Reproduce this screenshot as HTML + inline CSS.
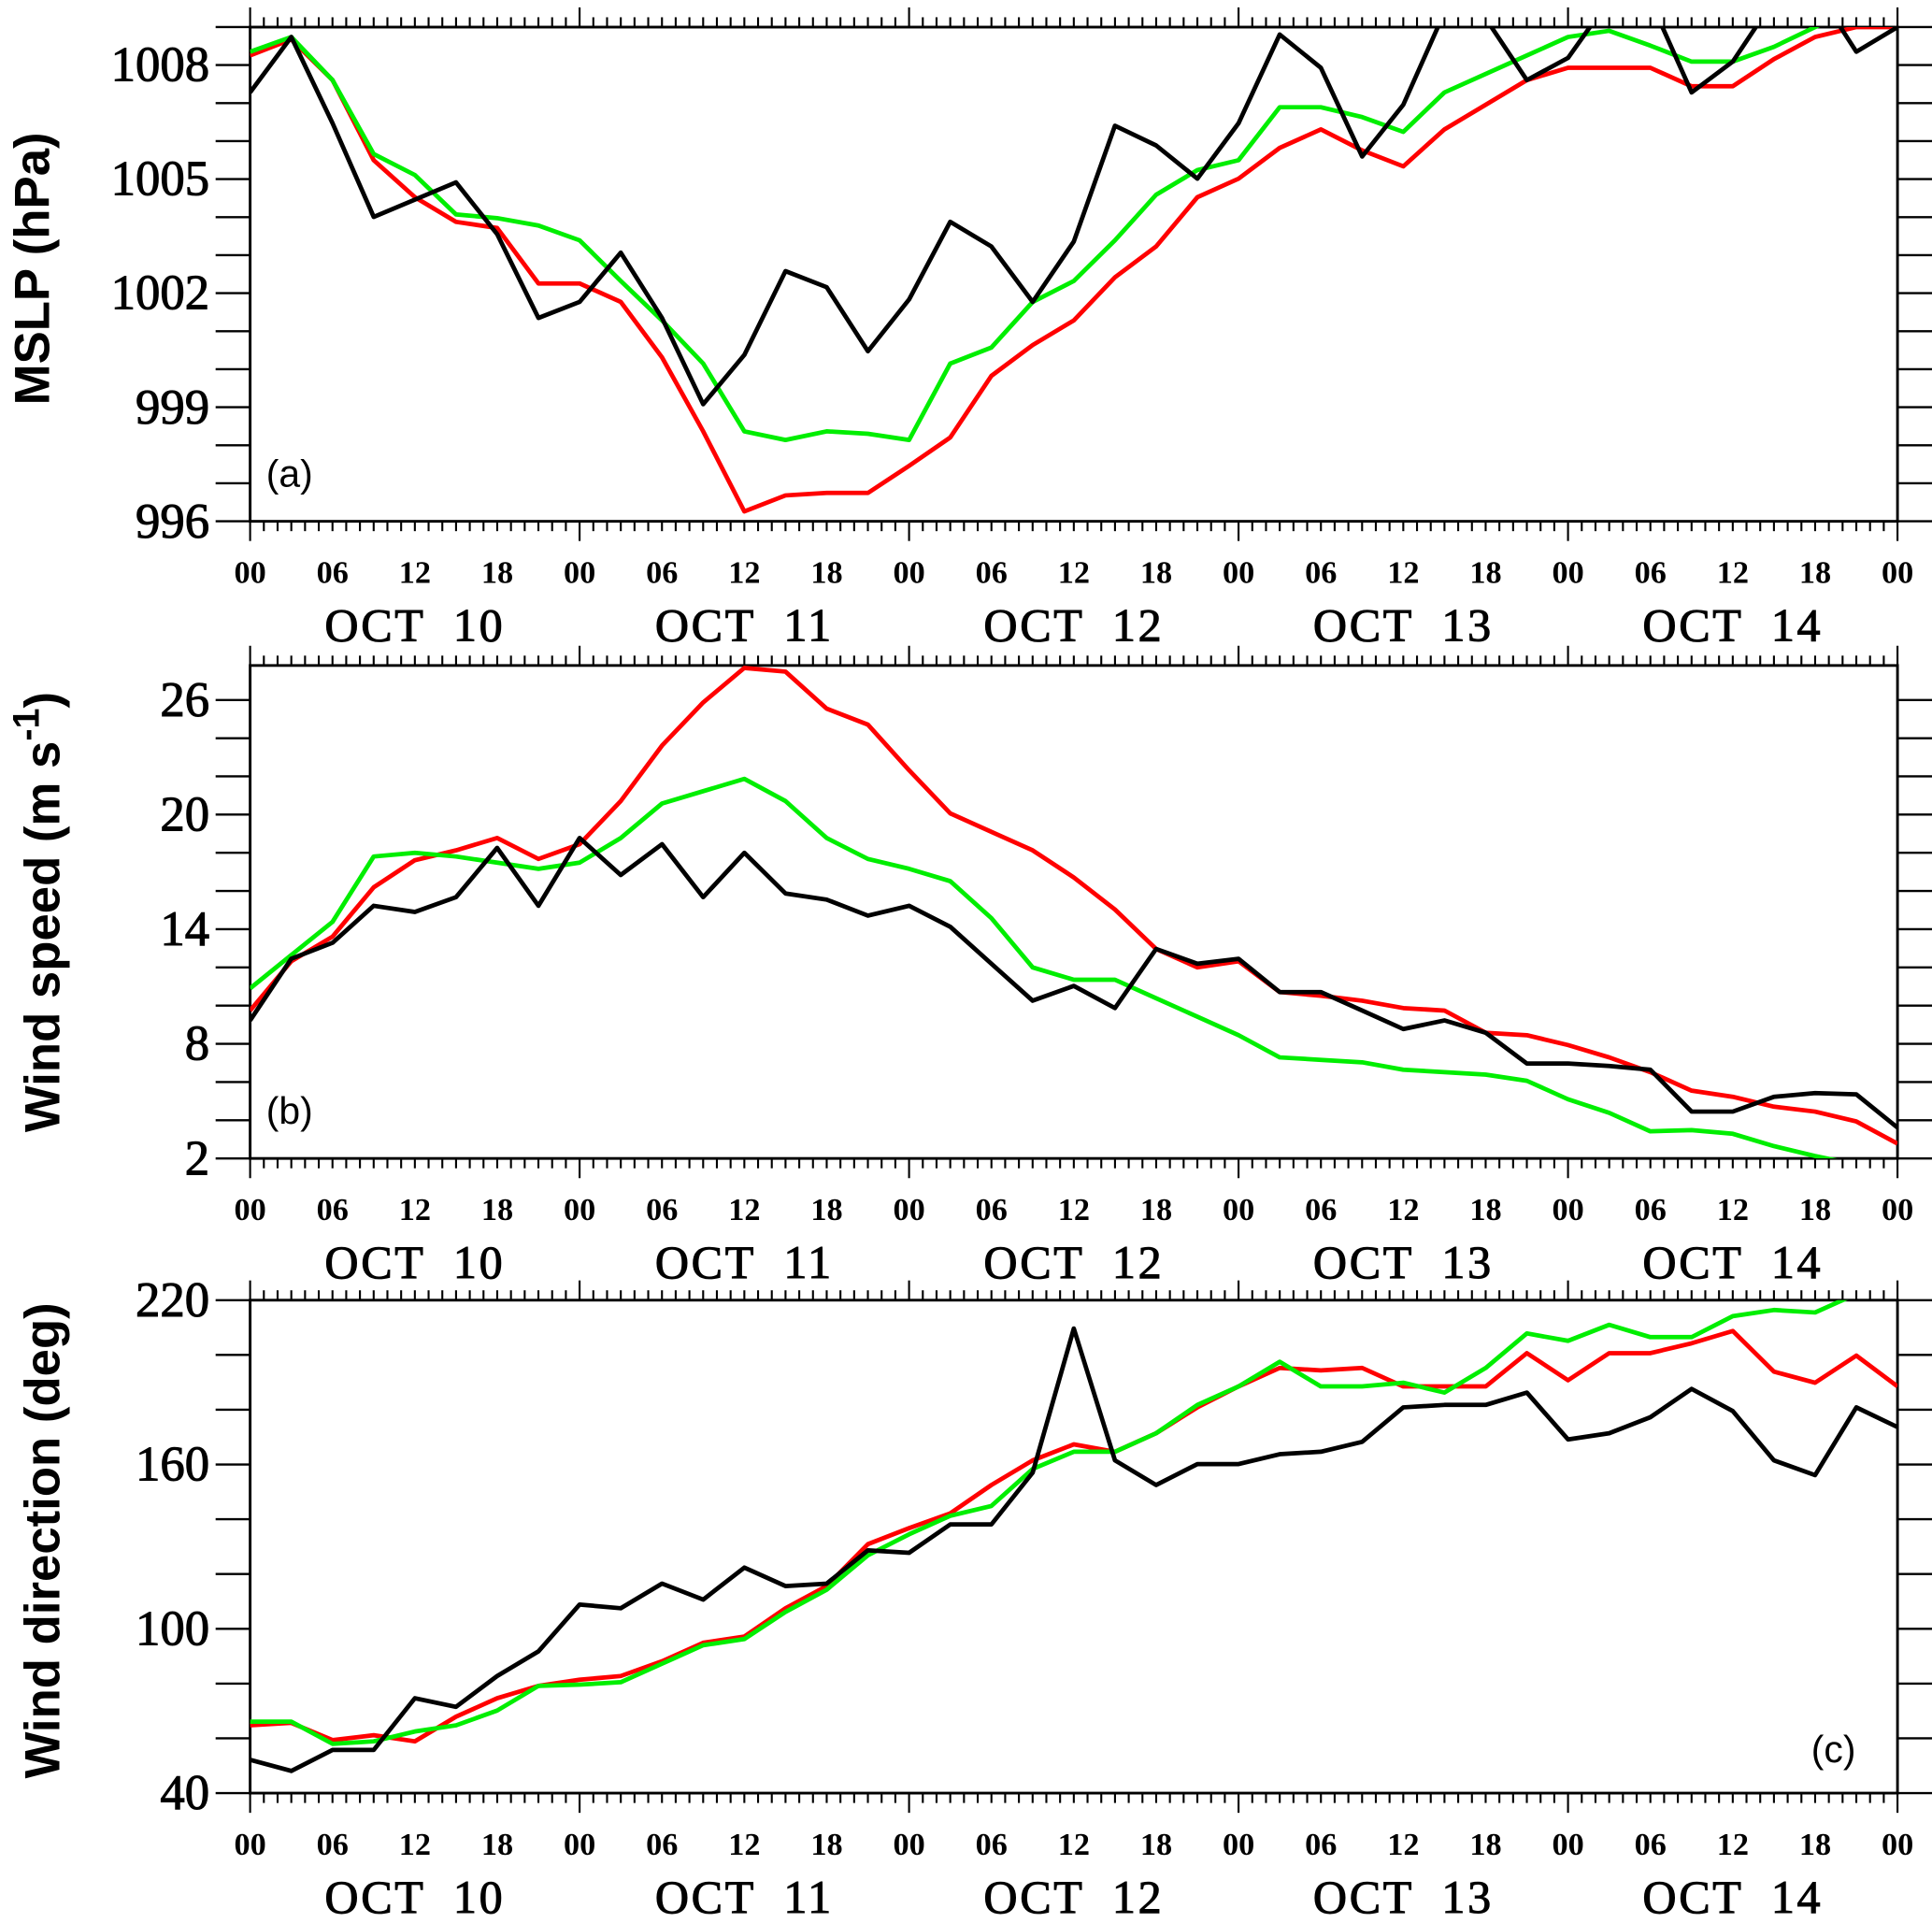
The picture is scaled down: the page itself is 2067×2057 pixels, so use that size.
<!DOCTYPE html>
<html><head><meta charset="utf-8"><style>
html,body{margin:0;padding:0;background:#fff;overflow:hidden}
svg{display:block}
</style></head><body>
<svg id="s" width="2067" height="2057" viewBox="0 0 1568 1560.4" preserveAspectRatio="none" xmlns="http://www.w3.org/2000/svg">
<defs>
<clipPath id="ca"><rect x="203" y="22" width="1337" height="401"/></clipPath>
<clipPath id="cb"><rect x="203" y="540" width="1337" height="400"/></clipPath>
<clipPath id="cc"><rect x="203" y="1055" width="1337" height="400"/></clipPath>
</defs>
<g id="g"></g>
</svg>
<script>
var g=document.getElementById('g');var out='';
var X0=203,X1=1540,DX=(X1-X0)/40;
function panel(top,bot,yt,clip,series,lab,lx,ly){
 out+='<rect x="'+X0+'" y="'+top+'" width="'+(X1-X0)+'" height="'+(bot-top)+'" fill="none" stroke="#000" stroke-width="2.2"/>';
 for(var h=0;h<=120;h++){var x=X0+(X1-X0)*h/120;var L=(h%24==0)?16:8;
  out+='<line x1="'+x+'" y1="'+top+'" x2="'+x+'" y2="'+(top-L)+'" stroke="#000" stroke-width="1.6"/>';
  out+='<line x1="'+x+'" y1="'+bot+'" x2="'+x+'" y2="'+(bot+L)+'" stroke="#000" stroke-width="1.6"/>';}
 yt.forEach(function(t){out+='<line x1="'+(X0-28)+'" y1="'+t[0]+'" x2="'+X0+'" y2="'+t[0]+'" stroke="#000" stroke-width="1.8"/>';
  out+='<line x1="'+X1+'" y1="'+t[0]+'" x2="'+(X1+28)+'" y2="'+t[0]+'" stroke="#000" stroke-width="1.8"/>';
  if(t[1]!==null)out+='<text x="'+(X0-33)+'" y="'+(t[0]+13)+'" font-family="Liberation Serif,serif" font-size="40" stroke="#000" stroke-width="0.8" text-anchor="end">'+t[1]+'</text>';});
 var hl=['00','06','12','18'];
 for(var i=0;i<=20;i++){var x=X0+(X1-X0)*i/20;
  out+='<text x="'+x+'" y="'+(bot+50)+'" font-family="Liberation Serif,serif" font-size="26" font-weight="bold" text-anchor="middle">'+hl[i%4]+'</text>';}
 for(var d=0;d<5;d++){var x=X0+(X1-X0)*(d+0.5)/5;
  out+='<text x="'+x+'" y="'+(bot+97)+'" font-family="Liberation Serif,serif" font-size="38" stroke="#000" stroke-width="0.8" text-anchor="middle" letter-spacing="2" xml:space="preserve">OCT  '+(10+d)+'</text>';}
 out+='<text x="'+lx+'" y="'+ly+'" font-family="Liberation Sans,sans-serif" font-size="31">'+lab+'</text>';
 out+='<g clip-path="url(#'+clip+')">';
 series.forEach(function(s){var p=s[1].map(function(y,i){return (X0+DX*i).toFixed(1)+','+y}).join(' ');
  out+='<polyline points="'+p+'" fill="none" stroke="'+s[0]+'" stroke-width="3.6" stroke-linejoin="round"/>';});
 out+='</g>';
}
var ta=[];for(var v=996;v<=1009;v++){ta.push([423-(v-996)*30.85,(v%3==0)?v:null]);}
var aK=[75,30,100,176,162,148,190,258,245,205,258,328,288,220,233,285,243,180,200,245,196,102,118,145,100,28,55,127,85,10,15,65,47,0,0,75,50,0,-10,42,22];
var aR=[45,32,65,130,160,180,185,230,230,245,290,350,415,402,400,400,378,355,305,280,260,225,200,160,145,120,105,122,135,105,85,65,55,55,55,70,70,48,30,22,22];
var aG=[42,30,65,125,142,174,177,183,195,228,260,295,350,357,350,352,357,295,282,245,228,195,158,138,130,87,87,95,107,75,60,45,30,25,37,50,50,38,22,5,-5];
panel(22,423,ta,'ca',[['#ff0000',aR],['#00ee00',aG],['#000',aK]],'(a)',216,395);
var tb=[];for(var k=0;k<=12;k++){var v=2+2*k;var y=940-(v-2)*15.5;if(v%6==2)tb.push([y,v]);else tb.push([y,null]);}
var bR=[820,780,760,720,698,690,680,697,685,650,605,570,542,545,575,588,625,660,675,690,712,738,770,785,780,805,808,812,818,820,838,840,848,858,870,885,890,898,902,910,928];
var bG=[802,775,748,695,692,695,700,705,700,680,652,642,632,650,680,697,705,715,745,785,795,795,810,825,840,858,860,862,868,870,872,877,892,903,918,917,920,930,938,945,950];
var bK=[828,778,765,735,740,728,688,735,680,710,685,728,692,725,730,743,735,752,782,812,800,818,770,782,778,805,805,820,835,828,838,863,863,865,868,902,902,890,887,888,915];
panel(540,940,tb,'cb',[['#ff0000',bR],['#00ee00',bG],['#000',bK]],'(b)',216,912);
var tc=[];for(var v=40;v<=220;v+=20){var y=1455-(v-40)*400/180;tc.push([y,(v%60==40)?v:null]);}
var cR=[1400,1398,1412,1408,1413,1393,1378,1368,1363,1360,1348,1333,1328,1305,1287,1253,1240,1228,1205,1185,1172,1178,1163,1142,1125,1110,1112,1110,1125,1125,1125,1098,1120,1098,1098,1090,1080,1113,1122,1100,1125];
var cG=[1397,1397,1415,1413,1405,1400,1388,1368,1367,1365,1350,1335,1330,1308,1290,1262,1245,1230,1222,1192,1178,1178,1163,1140,1125,1105,1125,1125,1122,1130,1110,1082,1088,1075,1085,1085,1068,1063,1065,1050,1040];
var cK=[1428,1437,1420,1420,1378,1385,1360,1340,1302,1305,1285,1298,1272,1287,1285,1258,1260,1237,1237,1195,1078,1185,1205,1188,1188,1180,1178,1170,1142,1140,1140,1130,1168,1163,1150,1127,1145,1185,1197,1142,1158];
panel(1055,1455,tc,'cc',[['#ff0000',cR],['#00ee00',cG],['#000',cK]],'(c)',1470,1430);
function yl(x,y,t){out+='<text transform="translate('+x+','+y+') rotate(-90)" font-family="Liberation Sans,sans-serif" font-size="40" font-weight="bold" text-anchor="middle">'+t+'</text>';}
yl(40,218,'MSLP (hPa)');
yl(48,740,'Wind speed (m s<tspan baseline-shift="super" font-size="30">-1</tspan>)');
yl(48,1250,'Wind direction (deg)');
g.innerHTML=out;
</script>
</body></html>
